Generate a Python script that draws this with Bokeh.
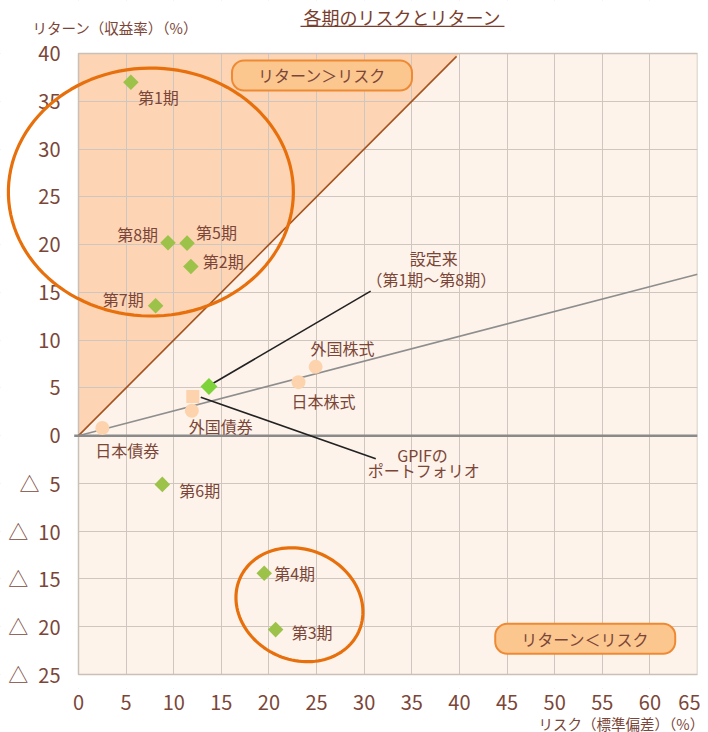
import numpy as np
from bokeh.plotting import figure
from bokeh.models import ColumnDataSource, Range1d, FixedTicker, Label, PolyAnnotation
from bokeh.core.properties import value
from bokeh.embed import file_html
from bokeh.resources import INLINE

# ---------------- data ----------------
periods = ["第1期", "第2期", "第3期", "第4期", "第5期", "第6期", "第7期", "第8期"]
period_risk = [5.5, 11.8, 20.7, 19.5, 11.4, 8.8, 8.1, 9.4]
period_return = [37.0, 17.7, -20.3, -14.4, 20.15, -5.1, 13.6, 20.2]

cum_risk = [13.7]      # 設定来（第1期～第8期）
cum_return = [5.15]

assets = ["日本債券", "外国債券", "日本株式", "外国株式"]
asset_risk = [2.5, 11.9, 23.1, 24.9]
asset_return = [0.8, 2.6, 5.6, 7.2]

gpif_risk = [12.0]     # GPIFのポートフォリオ
gpif_return = [4.1]

x_ticks = list(range(0, 70, 5))
y_ticks = list(range(-25, 45, 5))
y_tick_labels = [(f"△\u2002{abs(t)}" if t < 0 else str(t)) for t in y_ticks]

equal_line_x = [0, 39.7]
equal_line_y = [0, 39.7]
ratio_line_x = [0, 65]
ratio_line_y = [0, 16.9]

# ---------------- styling / layout ----------------
FONT = "Noto Sans CJK JP"
BROWN = "#7B4638"
ORANGE = "#E8700C"
XMIN, XMAX, YMIN, YMAX = 0, 65, -25, 40          # plot area
PLOT_L, PLOT_T, PLOT_W, PLOT_H = 78, 53, 619, 621  # plot area in pixels
PAD_B = 14                                          # room under plot area for tick label
sx = PLOT_W / (XMAX - XMIN)
sy = PLOT_H / (YMAX - YMIN)
XSTART = XMIN - PLOT_L / sx
YEND = YMAX + PLOT_T / sy
YSTART = YMIN - PAD_B / sy

p = figure(frame_width=PLOT_L + PLOT_W, frame_height=PLOT_T + PLOT_H + PAD_B,
           x_range=Range1d(XSTART, XMAX), y_range=Range1d(YSTART, YEND),
           output_backend="svg", toolbar_location=None,
           min_border_left=0, min_border_right=3, min_border_top=0, min_border_bottom=40)
p.background_fill_color = "white"
p.border_fill_color = "white"
p.outline_line_color = None

p.yaxis.visible = False
xa = p.xaxis[0]
xa.axis_line_color = None
xa.major_tick_line_color = None
xa.minor_tick_line_color = None
xa.major_label_text_font = FONT
xa.major_label_text_font_size = "20px"
xa.major_label_text_color = BROWN
xa.major_label_standoff = 0
xa.ticker = FixedTicker(ticks=x_ticks)
# caption centred on the axis end; trailing ideographic spaces shift the visible text left
xa.axis_label = "リスク（標準偏差）（%）" + "\u3000" * 11
xa.axis_label_align = "end"
xa.axis_label_standoff = 0
xa.axis_label_text_font = FONT
xa.axis_label_text_font_size = "14.5px"
xa.axis_label_text_font_style = "normal"
xa.axis_label_text_color = BROWN

p.xgrid.ticker = FixedTicker(ticks=x_ticks)
p.ygrid.ticker = FixedTicker(ticks=y_ticks)
for g in (p.xgrid[0], p.ygrid[0]):
    g.grid_line_color = "#CFC6BF"
    g.grid_line_width = 1

# plot-area background and "return > risk" region (under the grid)
p.quad(left=[XMIN], right=[XMAX], bottom=[YMIN], top=[YMAX], fill_color="#FDF3EA",
       line_color=None, level="image")
p.patch([0, 0, 40], [0, 40, 40], fill_color="#FDB982", fill_alpha=0.52, line_color=None,
        level="image")

# white margins around the plot area (hide grid there)
p.quad(left=[XSTART, XSTART, XSTART], right=[XMIN, XMAX, XMAX],
       bottom=[YSTART, YMAX, YSTART], top=[YEND, YEND, YMIN],
       fill_color="white", line_color=None)
# plot-area border
p.quad(left=[XMIN], right=[XMAX], bottom=[YMIN], top=[YMAX], fill_color=None,
       line_color="#C9C0B8", line_width=1.5)

# y tick labels
ysrc = ColumnDataSource(dict(x=[XMIN] * len(y_ticks), y=y_ticks, t=y_tick_labels))
p.text(x="x", y="y", text="t", x_offset=-18, text_align="right", text_baseline="middle",
       text_font=value(FONT), text_font_size="20px", text_color=BROWN, source=ysrc)

# reference lines
p.line(equal_line_x, equal_line_y, line_color="#A4531E", line_width=1.6)
p.line(ratio_line_x, ratio_line_y, line_color="#8E8E8E", line_width=1.6)
p.line([XMIN - 0.45, XMAX], [0, 0], line_color="#8A8A8A", line_width=2.5)

# callout lines (from points, with pixel offsets)
c_start = (3.4, -2.7); c_end = (161.7, -95.3)
g_start = (8.0, 0.7); g_end = (183.0, 62.3)
p.segment(x0=[cum_risk[0] + c_start[0] / sx, gpif_risk[0] + g_start[0] / sx],
          y0=[cum_return[0] - c_start[1] / sy, gpif_return[0] - g_start[1] / sy],
          x1=[cum_risk[0] + c_end[0] / sx, gpif_risk[0] + g_end[0] / sx],
          y1=[cum_return[0] - c_end[1] / sy, gpif_return[0] - g_end[1] / sy],
          line_color="#222222", line_width=1.6)

# asset markers
p.scatter(asset_risk, asset_return, marker="circle", size=14, fill_color="#FDD3AE", line_color=None)
p.scatter(gpif_risk, gpif_return, marker="square", size=13, fill_color="#FDD3AE", line_color=None)

# period markers
p.scatter(period_risk, period_return, marker="square", angle=np.pi / 4, size=11,
          fill_color="#9DC24A", line_color=None)
p.scatter(cum_risk, cum_return, marker="square", angle=np.pi / 4, size=12,
          fill_color="#7ED23A", line_color=None)

# point labels
p_off_x = [7, 12, 16, 10, 9, 17, -12, -10]
p_off_y = [15, -6, 2, 0, -11, 6, -7, -9]
p_align = ["left", "left", "left", "left", "left", "left", "right", "right"]
psrc = ColumnDataSource(dict(x=period_risk, y=period_return, t=periods,
                             xo=p_off_x, yo=p_off_y, al=p_align))
p.text(x="x", y="y", text="t", x_offset="xo", y_offset="yo", text_align="al",
       text_baseline="middle", text_font=value(FONT), text_font_size="16px",
       text_color=BROWN, source=psrc)

a_off_x = [25, 29, 25, 27]
a_off_y = [22, 15, 19, -19]
asrc = ColumnDataSource(dict(x=asset_risk, y=asset_return, t=assets, xo=a_off_x, yo=a_off_y))
p.text(x="x", y="y", text="t", x_offset="xo", y_offset="yo", text_align="center",
       text_baseline="middle", text_font=value(FONT), text_font_size="16px",
       text_color=BROWN, source=asrc)

# callout texts
csrc = ColumnDataSource(dict(
    x=[cum_risk[0], cum_risk[0], gpif_risk[0], gpif_risk[0]],
    y=[cum_return[0], cum_return[0], gpif_return[0], gpif_return[0]],
    t=["設定来", "（第1期～第8期）", "GPIFの", "ポートフォリオ"],
    xo=[224.7, 222.4, 229.7, 231], yo=[-128.7, -107.7, 59, 74]))
p.text(x="x", y="y", text="t", x_offset="xo", y_offset="yo", text_align="center",
       text_baseline="middle", text_font=value(FONT), text_font_size="16px",
       text_color=BROWN, source=csrc)

# title (with underline) and y-axis caption
p.add_layout(Label(x=34.02, y=43.77, text="各期のリスクとリターン", text_align="center",
                   text_baseline="middle", text_font=FONT, text_font_size="18px",
                   text_color="#7A3E2E"))
p.line([23.31, 44.73], [42.83, 42.83], line_color="#7A3E2E", line_width=1.2)
p.add_layout(Label(x=-4.83, y=42.73, text="リターン（収益率）（%）", text_align="left",
                   text_baseline="middle", text_font=FONT, text_font_size="14.5px",
                   text_color=BROWN))

# ellipses
def ellipse(cx, cy, a, b, theta_deg):
    t = np.linspace(0, 2 * np.pi, 120)
    th = np.deg2rad(theta_deg)
    dx = a * np.cos(t) * np.cos(th) - b * np.sin(t) * np.sin(th)
    dy = a * np.cos(t) * np.sin(th) + b * np.sin(t) * np.cos(th)
    return list(cx + dx / sx), list(cy + dy / sy)

for (cx, cy, a, b, th) in [(7.6, 25.5, 142.5, 124.0, 0.0), (23.2, -17.7, 65.1, 55.1, -24.6)]:
    xs, ys = ellipse(cx, cy, a, b, th)
    p.add_layout(PolyAnnotation(xs=xs, ys=ys, fill_alpha=0, line_color=ORANGE,
                                line_alpha=1, line_width=3.2))

# rounded boxes
for txt, bx, by in [("リターン＞リスク", 25.57, 37.70), ("リターン＜リスク", 53.21, -21.26)]:
    p.add_layout(Label(x=bx, y=by, x_offset=2, y_offset=-3, text=txt, text_alpha=0,
                       text_align="center", text_baseline="middle",
                       text_font=FONT, text_font_size="16px",
                       background_fill_color="#B08060", background_fill_alpha=0.35,
                       border_line_color=None, border_radius=12,
                       padding=dict(left=26, right=26, top=3, bottom=3)))
    p.add_layout(Label(x=bx, y=by, text=txt, text_color=BROWN,
                       text_align="center", text_baseline="middle",
                       text_font=FONT, text_font_size="16px",
                       background_fill_color="#FCC68F",
                       border_line_color="#EE8A33", border_line_width=2, border_radius=12,
                       padding=dict(left=26, right=26, top=3, bottom=3)))

open("out.html", "w").write(file_html(p, INLINE))
